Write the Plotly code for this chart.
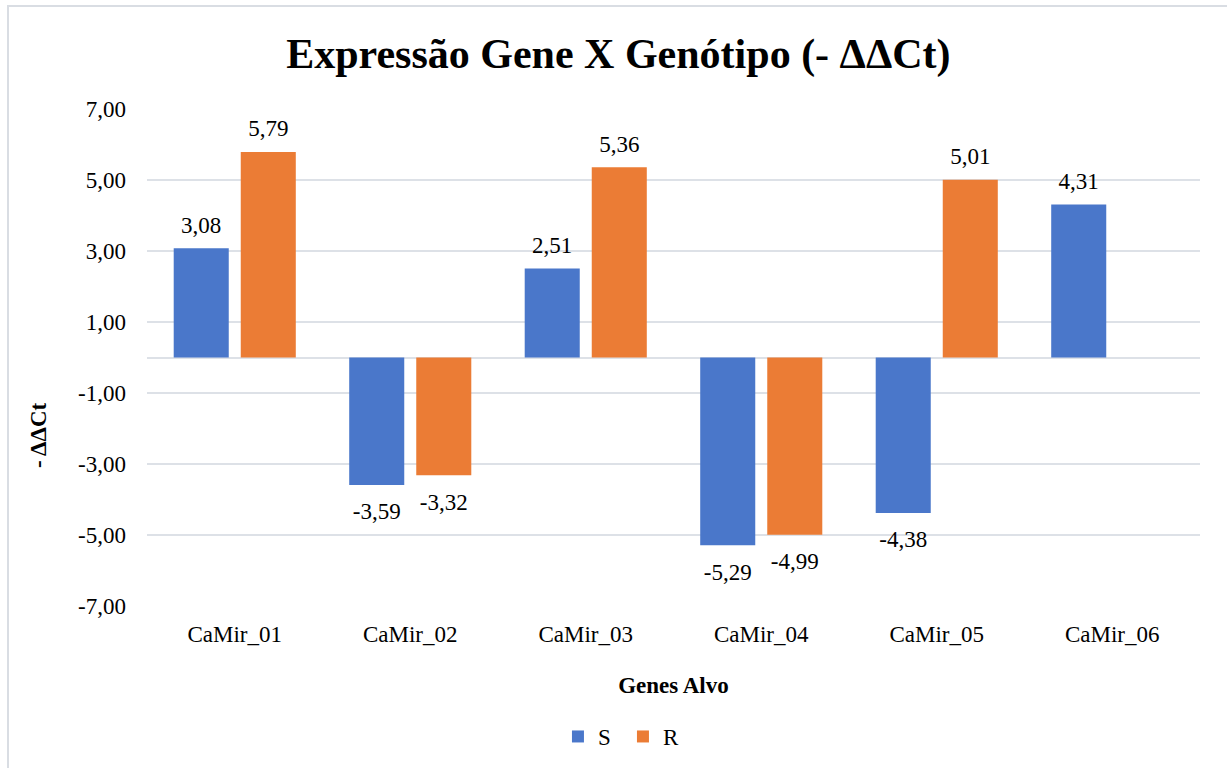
import plotly.graph_objects as go

categories = ["CaMir_01", "CaMir_02", "CaMir_03", "CaMir_04", "CaMir_05", "CaMir_06"]
s_values = [3.08, -3.59, 2.51, -5.29, -4.38, 4.31]
r_values = [5.79, -3.32, 5.36, -4.99, 5.01, None]
y_ticks = [-7, -5, -3, -1, 1, 3, 5, 7]
y_tick_labels = ["-7,00", "-5,00", "-3,00", "-1,00", "1,00", "3,00", "5,00", "7,00"]

FONT = "Liberation Serif"
BARGAP = 0.236

fig = go.Figure()
for name, vals, color in [("S", s_values, "#4A77CA"), ("R", r_values, "#EB7C35")]:
    fig.add_trace(go.Bar(
        name=name, x=categories, y=vals, offsetgroup=name,
        marker=dict(color=color, line=dict(width=0)),
    ))
for name, vals in [("S", s_values), ("R", r_values)]:
    pos = [(v is not None and v >= 0) for v in vals]
    fig.add_trace(go.Scatter(
        x=categories, y=vals, offsetgroup=name, mode="markers+text",
        marker=dict(size=[14 if p else 26 for p in pos], opacity=0),
        texttemplate="%{y:.2f}",
        textposition=["top center" if p else "bottom center" for p in pos],
        textfont=dict(family=FONT, size=23, color="#000000"),
        showlegend=False, hoverinfo="skip", cliponaxis=False,
    ))

fig.update_layout(
    width=1227, height=768,
    margin=dict(l=147, r=27, t=109, b=162),
    paper_bgcolor="white", plot_bgcolor="white",
    separators=", ",
    barmode="group", bargap=BARGAP, bargroupgap=0.179,
    scattermode="group", scattergap=BARGAP,
    title=dict(text="<b>Expressão Gene X Genótipo (- ΔΔCt)</b>",
               x=0.504, xanchor="center", y=0.93, yanchor="middle",
               font=dict(family=FONT, size=42, color="#000000")),
    font=dict(family=FONT, color="#000000"),
    showlegend=True,
    legend=dict(orientation="h", x=0.452, xanchor="center", yref="container", y=0.041, yanchor="middle",
                font=dict(family=FONT, size=23, color="#000000"),
                itemwidth=30, entrywidth=20, traceorder="normal"),
    annotations=[dict(text="<b>- ΔΔCt</b>", textangle=-90, xref="paper", yref="paper",
                      x=-0.1035, y=0.344, xanchor="center", yanchor="middle", showarrow=False,
                      font=dict(family=FONT, size=23, color="#000000"))],
    shapes=[dict(type="rect", xref="paper", yref="paper",
                 x0=-0.132, x1=1.2, y0=-0.5, y1=1.207,
                 line=dict(color="#D9DDE3", width=2), layer="below")],
)

fig.update_xaxes(
    title=dict(text="<b>Genes Alvo</b>", font=dict(family=FONT, size=23, color="#000000"), standoff=30),
    tickfont=dict(family=FONT, size=23, color="#000000"),
    showline=False, showgrid=False, ticks="", zeroline=False, ticklabelstandoff=12,
    automargin=False,
)
fig.update_yaxes(
    range=[-7, 7],
    tickvals=y_ticks, ticktext=y_tick_labels,
    tickfont=dict(family=FONT, size=23, color="#000000"),
    showgrid=True, gridcolor="#DDE1E7", gridwidth=2,
    zeroline=True, zerolinecolor="#DDE1E7", zerolinewidth=2,
    showline=False, ticks="", ticklabelstandoff=20, automargin=False,
)

fig.write_html("out.html")
